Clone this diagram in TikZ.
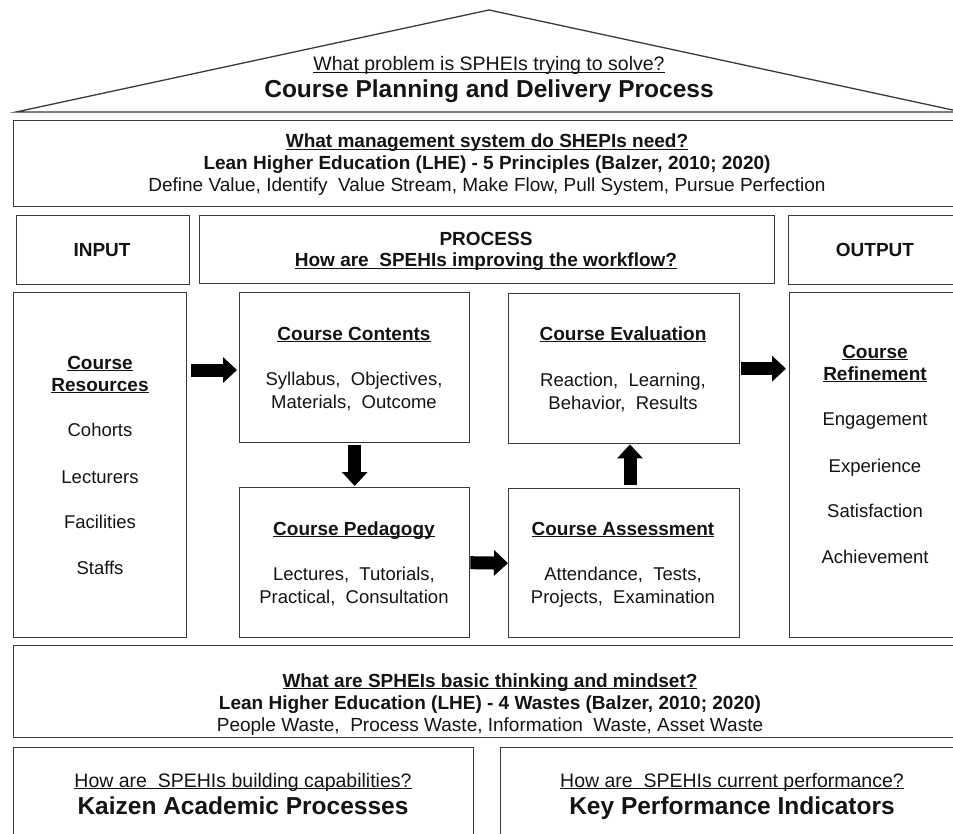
\documentclass[tikz,border=0pt]{standalone}
\usepackage{fontspec}
\setmainfont{Liberation Sans}
\usetikzlibrary{arrows.meta}

\definecolor{edge}{HTML}{3A3A3A}
\definecolor{ink}{HTML}{141414}

% underline sitting just below the baseline
\newcommand\ulbox[1]{\setbox0\hbox{#1}\rlap{\rule[-0.12em]{\wd0}{0.07em}}\box0}

\tikzset{
  frame/.style={draw=edge, line width=1.4pt, fill=white, anchor=north west, inner sep=0pt},
  txt/.style={anchor=base, text=ink, inner sep=0pt, font=\fontsize{18.5}{22}\selectfont},
  ttl/.style={anchor=base, text=ink, inner sep=0pt, font=\fontsize{19}{22}\selectfont\bfseries},
  qreg/.style={anchor=base, text=ink, inner sep=0pt, font=\fontsize{19.5}{23}\selectfont},
  big/.style={anchor=base, text=ink, inner sep=0pt, font=\fontsize{24.5}{28}\selectfont\bfseries},
  blk/.style={line width=13pt, draw=black, -{Triangle[length=14pt,width=25pt]}}
}

\begin{document}
\begin{tikzpicture}[x=1pt,y=-1pt]
\useasboundingbox (0,0) rectangle (953,834);
\clip (0,0) rectangle (953,834);
\fill[white] (0,0) rectangle (953,834);

% roof
\coordinate (roofL) at (16,112);
\coordinate (roofT) at (489,10);
\coordinate (roofR) at (962,112);
\draw[edge, line width=1.3pt, line join=miter] (roofL) -- (roofT) -- (roofR) -- cycle;
\node[qreg] (roofq) at (489,71) {\ulbox{What problem is SPHEIs trying to solve?}};
\node[big]  (rooft) at (489,98) {Course Planning and Delivery Process};

% management system band
\node[frame, minimum width=950pt, minimum height=86pt] (mgmt) at (13,120) {};
\node[ttl] (mgmtq) at (487,148) {\ulbox{What management system do SHEPIs need?}};
\node[ttl] (mgmtl) at (487,170) {Lean Higher Education (LHE) - 5 Principles (Balzer, 2010; 2020)};
\node[txt, font=\fontsize{19}{22}\selectfont] (mgmtd) at (487,192) {Define Value, Identify\ \ Value Stream, Make Flow, Pull System, Pursue Perfection};

% header row
\node[frame, minimum width=173pt, minimum height=69pt] (input) at (16,215) {};
\node[ttl] (inputt) at (102,257) {INPUT};
\node[frame, minimum width=575pt, minimum height=68pt] (proc) at (199,215) {};
\node[ttl] (proct) at (486,246) {PROCESS};
\node[ttl] (procq) at (486,267) {\ulbox{How are\ \ SPEHIs improving the workflow?}};
\node[frame, minimum width=175pt, minimum height=69pt] (output) at (788,215) {};
\node[ttl] (outputt) at (875,257) {OUTPUT};

% input column
\node[frame, minimum width=173pt, minimum height=345pt] (res) at (13,292) {};
\node[ttl] (res1) at (100,369) {\ulbox{Course}};
\node[ttl] (res2) at (100,391) {\ulbox{Resources}};
\node[txt] (res3) at (100,436) {Cohorts};
\node[txt] (res4) at (100,483) {Lecturers};
\node[txt] (res5) at (100,528) {Facilities};
\node[txt] (res6) at (100,574) {Staffs};

% process boxes
\node[frame, minimum width=230pt, minimum height=150pt] (con) at (239,292) {};
\node[ttl] (con1) at (354,340) {\ulbox{Course Contents}};
\node[txt] (con2) at (354,385) {Syllabus,\ \ Objectives,};
\node[txt] (con3) at (354,408) {Materials,\ \ Outcome};

\node[frame, minimum width=230pt, minimum height=150pt] (ped) at (239,487) {};
\node[ttl] (ped1) at (354,535) {\ulbox{Course Pedagogy}};
\node[txt] (ped2) at (354,580) {Lectures,\ \ Tutorials,};
\node[txt] (ped3) at (354,603) {Practical,\ \ Consultation};

\node[frame, minimum width=231pt, minimum height=150pt] (eva) at (508,293) {};
\node[ttl] (eva1) at (623,340) {\ulbox{Course Evaluation}};
\node[txt] (eva2) at (623,386) {Reaction,\ \ Learning,};
\node[txt] (eva3) at (623,409) {Behavior,\ \ Results};

\node[frame, minimum width=231pt, minimum height=149pt] (ass) at (508,488) {};
\node[ttl] (ass1) at (623,535) {\ulbox{Course Assessment}};
\node[txt] (ass2) at (623,580) {Attendance,\ \ Tests,};
\node[txt] (ass3) at (623,603) {Projects,\ \ Examination};

% output column
\node[frame, minimum width=174pt, minimum height=345pt] (ref) at (789,292) {};
\node[ttl] (ref1) at (875,358) {\ulbox{Course}};
\node[ttl] (ref2) at (875,380) {\ulbox{Refinement}};
\node[txt] (ref3) at (875,425) {Engagement};
\node[txt] (ref4) at (875,472) {Experience};
\node[txt] (ref5) at (875,517) {Satisfaction};
\node[txt] (ref6) at (875,563) {Achievement};

% flow arrows
\coordinate (r2c) at (191,370);
\draw[blk, shorten >=2pt] (r2c) -- (con.west |- r2c);
\draw[blk, shorten <=2pt, shorten >=1pt] (con.south) -- (ped.north);
\draw[blk] (ped.east) -- (ass.west);
\coordinate (a2e) at (630,485);
\draw[blk] (a2e) -- (eva.south -| a2e);
\draw[blk, shorten <=1pt, shorten >=3pt] (eva.east) -- (ref.west |- eva.east);

% mindset band
\node[frame, minimum width=950pt, minimum height=92pt] (mind) at (13,645) {};
\node[ttl] (mindq) at (490,687) {\ulbox{What are SPHEIs basic thinking and mindset?}};
\node[ttl] (mindl) at (490,709) {Lean Higher Education (LHE) - 4 Wastes (Balzer, 2010; 2020)};
\node[txt, font=\fontsize{19}{22}\selectfont] (mindd) at (490,731) {People Waste,\ \ Process Waste, Information\ \ Waste, Asset Waste};

% foundation boxes
\node[frame, minimum width=460pt, minimum height=100pt] (kaizen) at (13,747) {};
\node[qreg] (kaizenq) at (243,787) {\ulbox{How are\ \ SPEHIs building capabilities?}};
\node[big] (kaizent) at (243,814) {Kaizen Academic Processes};
\node[frame, minimum width=463pt, minimum height=100pt] (kpi) at (500,747) {};
\node[qreg] (kpiq) at (732,787) {\ulbox{How are\ \ SPEHIs current performance?}};
\node[big] (kpit) at (732,814) {Key Performance Indicators};
\end{tikzpicture}
\end{document}
